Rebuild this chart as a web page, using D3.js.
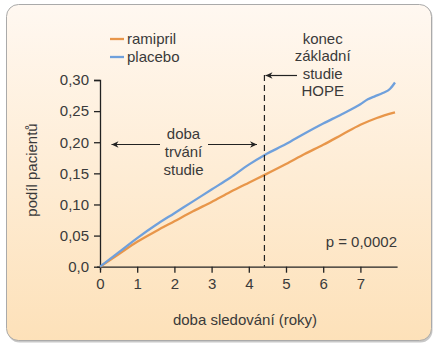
<!DOCTYPE html>
<html><head><meta charset="utf-8">
<script src="https://cdn.jsdelivr.net/npm/d3@7"></script>
<style>body{margin:0;background:#fff;}svg{display:block;font-family:"Liberation Sans",Arial,sans-serif;}</style>
</head><body><svg id="c" width="438" height="346"></svg>
<script>
const yearsPlacebo = [0,0.5,1,1.5,2,2.5,3,3.5,4,4.44,5,5.5,6,6.5,7,7.2,7.4,7.6,7.8,7.93];
const placebo =      [0,0.023,0.046,0.067,0.086,0.105,0.124,0.143,0.164,0.18,0.197,0.214,0.23,0.245,0.261,0.269,0.274,0.279,0.286,0.296];
const yearsRamipril = [0,0.5,1,1.5,2,2.5,3,3.5,4,4.44,5,5.5,6,6.5,7,7.44,7.93];
const ramipril =      [0,0.02,0.04,0.057,0.073,0.089,0.104,0.12,0.135,0.148,0.165,0.181,0.196,0.212,0.228,0.239,0.248];
const xTicks = [0,1,2,3,4,5,6,7];
const yTicks = [0,0.05,0.10,0.15,0.20,0.25,0.30];
const yTickLabels = ["0,0","0,05","0,10","0,15","0,20","0,25","0,30"];
const studyEnd = 4.42;
const seriesNames = ["ramipril","placebo"];
const seriesColors = ["#e8964a","#6fa0dc"];

const svg = d3.select("#c");
const defs = svg.append("defs");
const g = defs.append("linearGradient").attr("id","bg").attr("x1",0).attr("y1",0).attr("x2",0).attr("y2",1);
g.append("stop").attr("offset","0%").attr("stop-color","#fff8f1");
g.append("stop").attr("offset","100%").attr("stop-color","#fde1b9");
defs.append("marker").attr("id","ah").attr("viewBox","0 0 10 10").attr("refX",10).attr("refY",5)
  .attr("markerWidth",10).attr("markerHeight",7).attr("markerUnits","userSpaceOnUse").attr("orient","auto")
  .append("path").attr("d","M10,5 L0,0.5 L3,5 L0,9.5 Z").attr("fill","#222");

svg.append("rect").attr("x",7.5).attr("y",5.5).attr("width",425).attr("height",337).attr("rx",12)
  .attr("fill","#c8c8c8");
svg.append("rect").attr("x",6.5).attr("y",4.5).attr("width",425).attr("height",336).attr("rx",12)
  .attr("fill","url(#bg)").attr("stroke","#aaaaaa").attr("stroke-width",1);

const x = d3.scaleLinear().domain([0,8]).range([100,397.6]);
const y = d3.scaleLinear().domain([0,0.30]).range([266.7,80]);

const xAxis = svg.append("g").attr("transform","translate(0,266.7)")
  .call(d3.axisBottom(x).tickValues(xTicks).tickSize(6).tickPadding(6).tickFormat(d=>d));
const yAxis = svg.append("g").attr("transform","translate(100,0)")
  .call(d3.axisLeft(y).tickValues(yTicks).tickSize(6).tickPadding(5).tickFormat((d,i)=>yTickLabels[i]));
[xAxis,yAxis].forEach(a=>{
  a.select(".domain").attr("stroke","#222").attr("stroke-width",1.3);
  a.selectAll(".tick line").attr("stroke","#222").attr("stroke-width",1.3);
  a.selectAll("text").attr("fill","#3a3a3a").attr("font-size",15).attr("font-family","Liberation Sans, Arial, sans-serif");
});
xAxis.select(".domain").attr("d","M97,0.5H397.6");
yAxis.select(".domain").attr("d","M-6,80.5H0.5V270");

const line = d3.line().x(d=>x(d[0])).y(d=>y(d[1])).curve(d3.curveMonotoneX);
svg.append("path").datum(yearsRamipril.map((t,i)=>[t,ramipril[i]])).attr("d",line)
  .attr("fill","none").attr("stroke",seriesColors[0]).attr("stroke-width",2.3);
svg.append("path").datum(yearsPlacebo.map((t,i)=>[t,placebo[i]])).attr("d",line)
  .attr("fill","none").attr("stroke",seriesColors[1]).attr("stroke-width",2.3);

// dashed line
svg.append("line").attr("x1",x(studyEnd)).attr("x2",x(studyEnd)).attr("y1",75).attr("y2",266.7)
  .attr("stroke","#222").attr("stroke-width",1.2).attr("stroke-dasharray","6,4");

// arrows
const arrow=(x1,x2,yy)=>svg.append("line").attr("x1",x1).attr("y1",yy).attr("x2",x2).attr("y2",yy)
  .attr("stroke","#222").attr("stroke-width",1.2).attr("marker-end","url(#ah)");
arrow(297,265.5,75.5);
arrow(160,111.5,144.5);
arrow(208,257,144.5);

const txt = (s,xx,yy,anchor="middle")=>svg.append("text").attr("x",xx).attr("y",yy).attr("text-anchor",anchor)
  .attr("font-size",15).attr("fill","#3a3a3a").text(s);
["doba","trvání","studie"].forEach((s,i)=>txt(s,183.5,138.5+i*18.3));
["konec","základní","studie","HOPE"].forEach((s,i)=>txt(s,322.7,43.5+i*17.6));
txt("p = 0,0002",397,247,"end");
txt("doba sledování (roky)",245,324.5);
svg.append("text").attr("transform","translate(37,170) rotate(-90)").attr("text-anchor","middle")
  .attr("font-size",15).attr("fill","#3a3a3a").text("podíl pacientů");

// legend
seriesNames.forEach((n,i)=>{
  const yy = 39 + i*18;
  svg.append("line").attr("x1",110).attr("x2",124).attr("y1",yy).attr("y2",yy).attr("stroke",seriesColors[i]).attr("stroke-width",2.3);
  txt(n,127,yy+5,"start");
});
</script></body></html>
